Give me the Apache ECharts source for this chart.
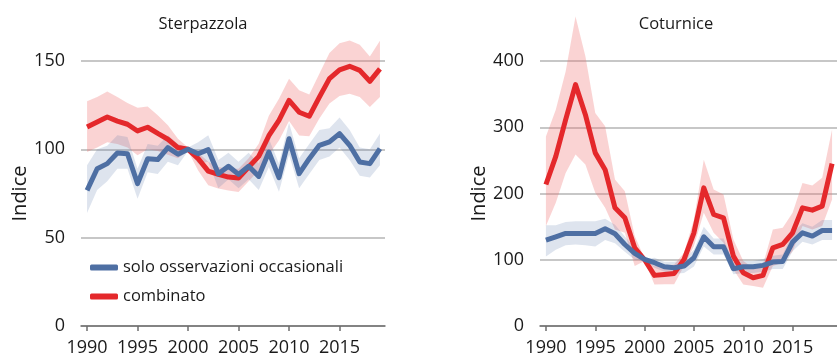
<!DOCTYPE html>
<html><head><meta charset="utf-8">
<script src="https://cdn.jsdelivr.net/npm/echarts@6/dist/echarts.min.js"></script>
<style>html,body{margin:0;padding:0;background:#fff}#c{width:837px;height:361px}</style>
</head><body><div id="c"></div>
<script>
const years = [1990,1991,1992,1993,1994,1995,1996,1997,1998,1999,2000,2001,2002,2003,2004,2005,2006,2007,2008,2009,2010,2011,2012,2013,2014,2015,2016,2017,2018,2019];
const xTicks = [1990,1995,2000,2005,2010,2015];
const legendNames = ['solo osservazioni occasionali','combinato'];
const titles = ['Sterpazzola','Coturnice'];

// Sterpazzola
const sBlue   = [76.8,89,91.9,97.9,97.5,80.6,94.7,94.2,101,97.2,100,97.5,99.8,86.2,90.4,85.8,90.4,84.7,98.5,84,106,86.2,94.7,102.3,104.2,108.9,102.3,92.8,91.9,100.4];
const sBlueLo = [64,77,82,89,89,72,87,86,93,91,99,92,93,78,83,78,83,77,90,76,97,78,86,94,96,101,94,85,84,91];
const sBlueHi = [91,100,102,108,107,89,103,102,108,103,101,104,108,94,98,93,98,92,106,92,115,95,103,111,112,118,111,101,100,109];
const sRed    = [112.6,115.5,118.3,116,114.2,110.4,112.5,109,105.7,101,100,94.7,87.7,85.8,84.3,83.8,90,96,107.7,116.4,127.7,121,118.7,129.6,140,145,147,144.7,138.5,145.5];
const sRedLo  = [98.5,101,104,103,101,96.6,100,99,97,95,99,88,79.6,77.8,76.7,75.8,82,88,97,105,116,107.9,107.4,117.4,125.9,130.2,131.5,129.6,124,129.6];
const sRedHi  = [127.2,129.6,132.8,129.6,126.2,123.6,124.3,119.3,113.6,106,101,98,93,90,89,89,95,103.2,119,128.7,140,133.4,131,142.8,154.5,160,161.6,159.2,152.5,161.4];

// Coturnice
const cBlue   = [129.6,134.7,139.7,139.7,139.7,139.7,146.7,139.2,123,109.5,100.5,95.5,89.4,88,90.5,103,134.7,119.6,119.6,86.4,89.4,89.4,91.5,96.5,97.5,126.6,140.7,135.7,144.2,144.2];
const cBlueLo = [105,115,122,123,122,120,130,125,112,100,99,88,82,79,80,90,120,108,108,78,80,80,82,86,86,113,127,123,130,130];
const cBlueHi = [152,152,157,158,158,158,162,153,135,118,101,103,97,97,100,115,150,132,132,96,98,98,101,106,108,140,155,150,160,160];
const cRed    = [213.6,256,311.6,364.3,319,261.3,236,178.4,163.3,118,100,76.4,77.9,79.4,100.5,140.7,208.5,168.3,163.3,105.5,80.4,72.9,76.4,118.1,123.1,140.7,178.4,174.9,181,245];
const cRedLo  = [150.8,186,231,258.8,243.7,201,178.4,145.7,140.7,90.5,98,62.8,63,63,90.5,120.6,170.9,140.7,125.6,85.4,62.8,60.3,57.8,90.5,95.5,113,150.8,145.7,150.8,191];
const cRedHi  = [286,326.6,384,467,407,321.6,301.5,221,203.5,135.7,102,90.5,90.5,93,110.6,160.8,251,206,198.5,130.7,98,88,93,145.7,148.2,170.9,216,212,223.6,296.5];

const BLUE = '#4e6fa3', RED = '#e4282b';
const BLUE_BAND = 'rgba(90,120,170,0.2)', RED_BAND = 'rgba(240,110,110,0.3)';
const FONT = 'Open Sans';

const pairs = arr => arr.map((v,i)=>[years[i], v]);

function band(idx, lo, hi, color){
  const data = years.map((y,i)=>[y, lo[i], hi[i]]);
  return {
    type:'custom', xAxisIndex:idx, yAxisIndex:idx, data:data, silent:true, z:1, clip:false,
    encode:{x:0, y:[1,2]},
    renderItem:function(params, api){
      if (params.dataIndex !== 0) return null;
      const top = [], bot = [];
      for (let i=0;i<data.length;i++){
        top.push(api.coord([data[i][0], data[i][2]]));
        bot.push(api.coord([data[i][0], data[i][1]]));
      }
      return {type:'polygon', shape:{points: top.concat(bot.reverse())}, style:{fill:color}};
    }
  };
}
function line(idx, name, vals, color){
  return {type:'line', name:name, xAxisIndex:idx, yAxisIndex:idx, data:pairs(vals), symbol:'none', color:color, lineStyle:{width:5, color:color, join:'round'}, itemStyle:{color:color}, clip:false, z:3};
}

function xAxis(idx){
  return {type:'value', gridIndex:idx, min:1989.4, max:2019.5,
    axisLine:{show:true, lineStyle:{color:'#6e6e6e', width:1.5}},
    axisTick:{show:true, customValues:xTicks, length:5, lineStyle:{color:'#6e6e6e', width:1.5}},
    axisLabel:{customValues:xTicks, formatter:v=>String(v), fontFamily:FONT, fontSize:18, color:'#1a1a1a', margin:13},
    splitLine:{show:false}};
}
function yAxis(idx, max, interval){
  return {type:'value', gridIndex:idx, min:0, max:max, interval:interval,
    name:'Indice', nameLocation:'middle', nameRotate:90, nameGap:50,
    nameTextStyle:{fontFamily:FONT, fontSize:20, color:'#1a1a1a'},
    axisLine:{show:false}, axisTick:{show:false},
    axisLabel:{fontFamily:FONT, fontSize:18, color:'#1a1a1a', margin:16},
    splitLine:{show:true, lineStyle:{color:'#b4b4b4', width:1.5}}};
}

const chart = echarts.init(document.getElementById('c'), null, {renderer:'canvas'});
chart.setOption({
  animation:false,
  backgroundColor:'#fff',
  title:[
    {text:titles[0], left:198, top:11, textAlign:'center', textStyle:{fontFamily:FONT, fontSize:16.5, fontWeight:'normal', color:'#1a1a1a'}},
    {text:titles[1], left:671, top:11, textAlign:'center', textStyle:{fontFamily:FONT, fontSize:16.5, fontWeight:'normal', color:'#1a1a1a'}}
  ],
  legend:{data:legendNames, orient:'vertical', left:85, top:254, itemGap:12, itemWidth:28, itemHeight:6, icon:'roundRect', itemStyle:{borderWidth:0}, textStyle:{fontFamily:FONT, fontSize:16.5, color:'#1a1a1a'}, selectedMode:false},
  grid:[
    {left:81, right:452, top:61, bottom:35},
    {left:540, right:-7, top:61, bottom:35}
  ],
  xAxis:[xAxis(0), xAxis(1)],
  yAxis:[yAxis(0,150,50), yAxis(1,400,100)],
  series:[
    band(0, sRedLo, sRedHi, RED_BAND),
    band(0, sBlueLo, sBlueHi, BLUE_BAND),
    line(0, legendNames[1], sRed, RED),
    line(0, legendNames[0], sBlue, BLUE),
    band(1, cRedLo, cRedHi, RED_BAND),
    band(1, cBlueLo, cBlueHi, BLUE_BAND),
    line(1, legendNames[1], cRed, RED),
    line(1, legendNames[0], cBlue, BLUE)
  ]
});
</script></body></html>
